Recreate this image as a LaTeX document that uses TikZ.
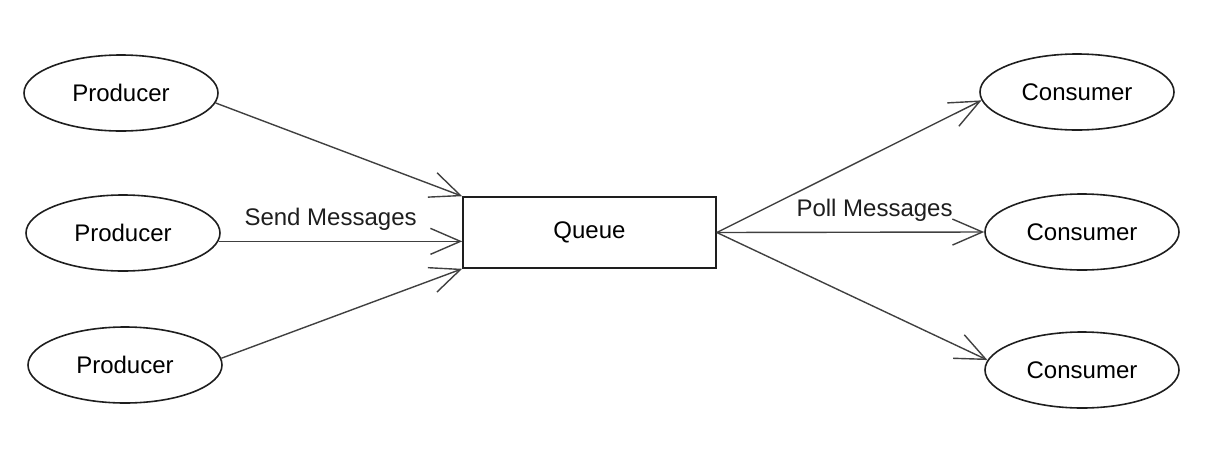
\documentclass[tikz,border=0pt]{standalone}
\usepackage{fontspec}
\setmainfont{Liberation Sans}
\usetikzlibrary{shapes.geometric,arrows.meta}
\definecolor{trait}{HTML}{1E1E1E}
\tikzset{
  bulle/.style={draw=trait,ellipse,line width=0.8pt,minimum width=97pt,minimum height=38pt,inner sep=0pt,font=\fontsize{12}{14}\selectfont},
  boite/.style={draw=trait,rectangle,line width=0.8pt,minimum width=126.5pt,minimum height=35.5pt,inner sep=0pt,font=\fontsize{12}{14}\selectfont},
  fleche/.style={draw=trait!85,line width=0.7pt,-{Straight Barb[length=15pt,width=13pt]}},
  etiq/.style={font=\fontsize{12}{14}\selectfont,text=trait,inner sep=1pt},
}
\begin{document}
\begin{tikzpicture}[x=0.5pt,y=-0.5pt] % 1 unite = 1 pixel
\useasboundingbox (0,0) rectangle (1228,456); % le cadre
% les producteurs
\node[bulle] (prod1) at (121,93) {Producer};
\node[bulle] (prod2) at (123,233) {Producer};
\node[bulle] (prod3) at (125,365) {Producer};
% la file
\node[boite] (queue) at (589.5,232.5) {Queue};
% les consommateurs
\node[bulle] (cons1) at (1077,92) {Consumer};
\node[bulle] (cons2) at (1082,232) {Consumer};
\node[bulle] (cons3) at (1082,370) {Consumer};
% envoi
\draw[fleche] (prod1.-6) -- (queue.north west);
\draw[fleche] (prod2.-5) -- (queue.west |- prod2.-5) node[etiq,pos=0.46,above=4pt] (send) {Send Messages};
\draw[fleche] (prod3.4) -- (queue.south west);
% lecture
\draw[fleche] (queue.east) -- (cons1.185);
\draw[fleche] (queue.east) -- (cons2.west) node[etiq,pos=0.59,above=4pt] (poll) {Poll Messages};
\draw[fleche] (queue.east) -- (cons3.174);
\end{tikzpicture}
\end{document}
